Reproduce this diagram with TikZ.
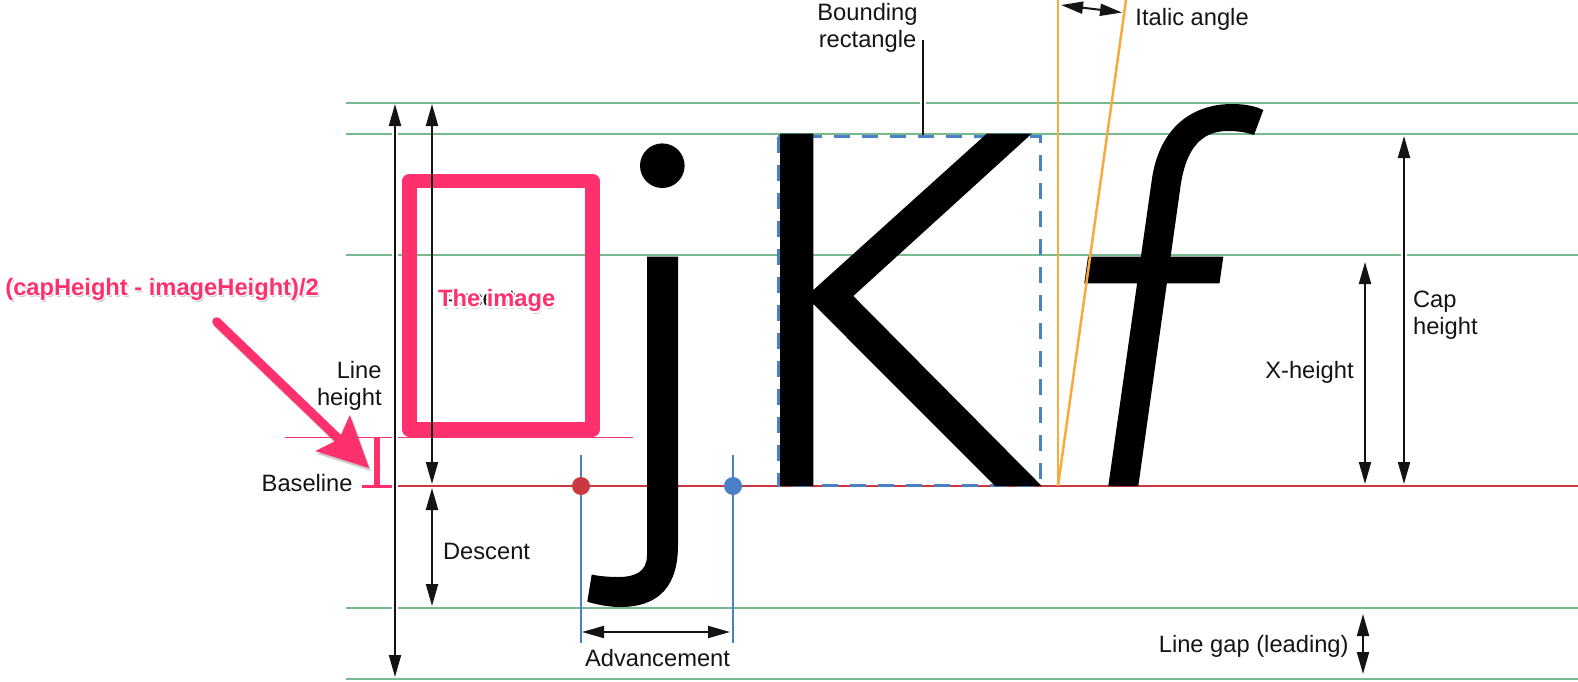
\documentclass[tikz,border=0pt]{standalone}
\usepackage{fontspec}
\setmainfont{Liberation Sans}
\usetikzlibrary{arrows.meta,calc}
\definecolor{guideGreen}{RGB}{118,186,142}
\definecolor{baseRed}{RGB}{204,56,64}
\definecolor{imgPink}{RGB}{255,48,110}
\definecolor{advBlue}{RGB}{74,128,198}
\definecolor{italOrange}{RGB}{248,170,60}
\definecolor{dimInk}{RGB}{20,20,20}
\begin{document}
\begin{tikzpicture}[x=0.5pt,y=-0.5pt,
  dimarrow/.style={draw=dimInk,line width=1pt,{Triangle[length=11pt,width=6pt]}-{Triangle[length=11pt,width=6pt]}},
  guideline/.style={draw=guideGreen,line width=1pt},
  knockout/.style={draw=white,line width=3pt},
  lbl/.style={font=\fontsize{11.85}{13.5}\selectfont,text=dimInk},
  pinklbl/.style={font=\fontsize{11.85}{13.5}\selectfont\bfseries,text=imgPink},
  glyph/.style={fill=black,draw=none}]
\tikzstyle{every node}+=[inner sep=0pt]
\useasboundingbox (0,0) rectangle (1578,681);
\foreach \gy in {102.7,133.7,255.3,607.7,679.3}
  \draw [guideline] (346,\gy) -- (1578,\gy);
\draw [baseRed, line width=1.25pt] (362,486) -- (1578,486);
\draw [imgPink, line width=7.25pt, line join=round] (409.5,180.8) rectangle (592.5,429.5);
\draw [imgPink, line width=0.5pt] (285,437.3) -- (633,437.3);
\draw [imgPink, line width=3pt] (376.5,438) -- (376.5,486);
\draw [imgPink, line width=1.5pt] (362,486) -- (393,486);
\coordinate (lhTop) at (395,104);
\coordinate (lhBot) at (395,677);
\coordinate (ascTop) at (432,104);
\coordinate (ascBot) at (432,484);
\coordinate (descTop) at (432,488);
\coordinate (descBot) at (432,606);
\coordinate (capTop) at (1404,136);
\coordinate (capBot) at (1404,484);
\coordinate (xhTop) at (1365,262);
\coordinate (xhBot) at (1365,484);
\coordinate (gapTop) at (1363,614);
\coordinate (gapBot) at (1363,674);
\coordinate (advL) at (582,632);
\coordinate (advR) at (730,632);
\coordinate (italL) at (1061,5);
\coordinate (italR) at (1122,12.5);
\coordinate (bbLeader) at (923,40);
\coordinate (bbTop) at (923,136);
\draw [knockout] (395,125) -- (395,660);
\draw [knockout] (1404,160) -- (1404,460);
\draw [knockout] (bbLeader) -- ($(bbTop)+(0,-12)$);
\draw [dimarrow] (lhTop) -- (lhBot);
\draw [dimarrow] (ascTop) -- (ascBot);
\draw [dimarrow] (descTop) -- (descBot);
\draw [dimarrow] (capTop) -- (capBot);
\draw [dimarrow] (xhTop) -- (xhBot);
\draw [dimarrow] (gapTop) -- (gapBot);
\draw [dimarrow] (advL) -- (advR);
\draw [dimarrow] (italL) -- (italR);
\draw [dimInk, line width=1pt] (bbLeader) -- (bbTop);
\fill [black] (662.3,165.7) circle (22.3);
\fill [black] (647,256.5) -- (647,555) .. controls (647,572) and (635,577) .. (618,577)
  .. controls (608,577) and (598,576) .. (591.7,574.5) -- (587.3,601.7)
  .. controls (598,605) and (610,607) .. (620,607) .. controls (660,607) and (678,585) .. (678,545)
  -- (678,256.5) -- cycle;
\draw [advBlue, line width=1.5pt, dash pattern=on 8pt off 6pt] (778.3,136.7) rectangle (1040,485);
\fill [black] (780,133.7) -- (813.3,133.7) -- (813.3,290) -- (986.7,133.7) -- (1031.7,133.7)
  -- (853.3,296) -- (1041.7,486) -- (995,486) -- (813.3,304) -- (813.3,486) -- (780,486) -- cycle;
\fill [black] (1108.3,486) -- (1151.5,182) .. controls (1158,130) and (1190,104) .. (1232,104)
  .. controls (1245,104) and (1255,106) .. (1263.3,110) -- (1254,135)
  .. controls (1245,132) and (1237,131) .. (1228,131) .. controls (1200,131) and (1185,150) .. (1180,190)
  -- (1138.3,486) -- cycle;
\fill [black] (1088,256.7) -- (1223.3,256.7) -- (1219.5,283.3) -- (1084.3,283.3) -- cycle;
\draw [italOrange, line width=1.25pt] (1058,0) -- (1058,486);
\draw [italOrange, line width=1.25pt] (1126,0) -- (1058,486);
\draw [advBlue, line width=0.75pt] (581,455) -- (581,643);
\draw [advBlue, line width=0.75pt] (733,455) -- (733,643);
\fill [baseRed] (581,486) circle (9);
\fill [advBlue] (733,486) circle (9);
\node [lbl, anchor=base east] (baselineLbl) at (353,491.7) {Baseline};
\node [lbl, anchor=base east, align=right] (lineHeightLbl) at (382,405.5) {Line\\height};
\node [lbl, anchor=base west] (ascentLbl) at (442.7,306.7) {Ascent};
\node [lbl, anchor=base west] (descentLbl) at (442.7,559.3) {Descent};
\node [lbl, anchor=base] (advLbl) at (657.5,666) {Advancement};
\node [lbl, anchor=base, align=center] (bboxLbl) at (867.5,47) {Bounding\\rectangle};
\node [lbl, anchor=base west] (italicLbl) at (1135,25) {Italic angle};
\node [lbl, anchor=base east] (xHeightLbl) at (1354,378.3) {X-height};
\node [lbl, anchor=base west, align=left] (capHeightLbl) at (1412.7,334.5) {Cap\\height};
\node [lbl, anchor=base east] (lineGapLbl) at (1349,652.7) {Line gap (leading)};
\node [pinklbl, text=black, opacity=0.2, anchor=base] at (498,309) {The image};
\foreach \dx/\dy in {-2/0,2/0,0/-2,0/2,1.5/1.5,-1.5/-1.5,1.5/-1.5,-1.5/1.5}
  \node [pinklbl, text=white, anchor=base] at (496.7+\dx,306.7+\dy) {The image};
\node [pinklbl, anchor=base] (imageLbl) at (496.7,306.7) {The image};
\node [pinklbl, text=black, opacity=0.2, anchor=base west] at (6.5,297) {(capHeight - imageHeight)/2};
\foreach \dx/\dy in {-1.5/0,1.5/0,0/-1.5,0/1.5}
  \node [pinklbl, text=white, anchor=base west] at (5+\dx,295+\dy) {(capHeight - imageHeight)/2};
\node [pinklbl, anchor=base west] (formulaLbl) at (5,295) {(capHeight - imageHeight)/2};
\coordinate (formulaTail) at (216.7,321.7);
\coordinate (formulaTip) at (369.3,468.3);
\draw [black, opacity=0.2, line width=4.5pt, line cap=round, -{Stealth[length=25pt,width=24pt,inset=4pt]}]
  ($(formulaTail)+(2,3)$) -- ($(formulaTip)+(2,3)$);
\draw [imgPink, line width=4.5pt, line cap=round, -{Stealth[length=25pt,width=24pt,inset=4pt]}] (formulaTail) -- (formulaTip);
\end{tikzpicture}
\end{document}
